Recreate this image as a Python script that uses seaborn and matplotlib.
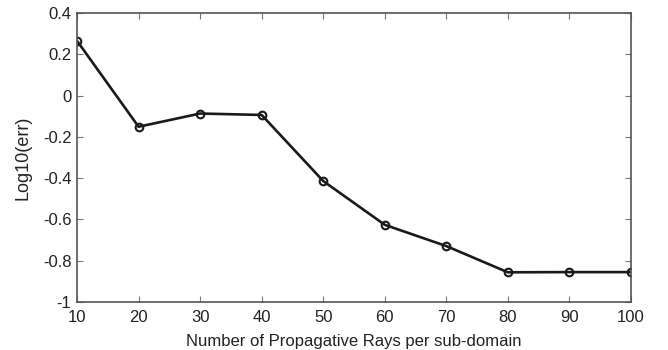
import matplotlib
matplotlib.use("Agg")
import matplotlib.pyplot as plt
import seaborn as sns
import pandas as pd

rays = [10, 20, 30, 40, 50, 60, 70, 80, 90, 100]
log_err = [0.265, -0.151, -0.087, -0.094, -0.414, -0.626, -0.729, -0.856, -0.855, -0.855]

x_ticks = [10, 20, 30, 40, 50, 60, 70, 80, 90, 100]
y_ticks = [-1, -0.8, -0.6, -0.4, -0.2, 0, 0.2, 0.4]
y_tick_labels = ["-1", "-0.8", "-0.6", "-0.4", "-0.2", "0", "0.2", "0.4"]

sns.set_style("white")
plt.rcParams["font.family"] = ["Liberation Sans", "DejaVu Sans"]

df = pd.DataFrame({"rays": rays, "log_err": log_err})

fig = plt.figure(figsize=(6.68, 3.5), dpi=100)
ax = fig.add_axes([0.1153, 0.137, 0.8293, 0.826])

sns.lineplot(data=df, x="rays", y="log_err", ax=ax, color="#1a1a1a",
             linewidth=1.9, marker="o", markersize=5.5,
             markerfacecolor="none", markeredgecolor="#1a1a1a",
             markeredgewidth=1.5)

ax.set_xlim(10, 100)
ax.set_ylim(-1, 0.4)
ax.set_xticks(x_ticks)
ax.set_xticklabels([str(t) for t in x_ticks])
ax.set_yticks(y_ticks)
ax.set_yticklabels(y_tick_labels)

for side in ["left", "right", "top", "bottom"]:
    ax.spines[side].set_visible(True)
    ax.spines[side].set_color("#555555")
    ax.spines[side].set_linewidth(1.2)

ax.tick_params(direction="in", length=4, width=0.8, color="#777777",
               top=True, right=True, bottom=True, left=True,
               labelsize=12, labelcolor="#222222")
ax.tick_params(axis="x", pad=6)
ax.tick_params(axis="y", pad=4)

ax.set_xlabel("Number of Propagative Rays per sub-domain", fontsize=12,
              color="#222222", labelpad=6)
ax.set_ylabel("Log10(err)", fontsize=13, color="#222222", labelpad=8)

fig.savefig("out.png", dpi=100)
